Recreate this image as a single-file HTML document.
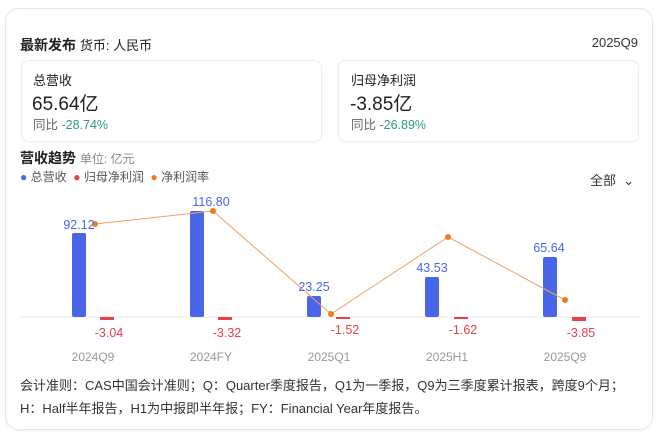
<!DOCTYPE html>
<html><head><meta charset="utf-8"><style>
body{margin:0;width:660px;height:439px;background:#fff;font-family:"Liberation Sans","Noto Sans CJK SC",sans-serif;color:#222;position:relative;overflow:hidden}
.a{position:absolute;white-space:nowrap}
.card{position:absolute;left:5px;top:8px;width:646px;height:420px;border:1px solid #e6e6e6;border-radius:14px;box-shadow:0 1px 4px rgba(0,0,0,.06)}
.box{position:absolute;top:60px;height:80px;border:1px solid #eee;border-radius:8px;box-shadow:0 1px 3px rgba(0,0,0,.05)}
</style></head><body>
<div class="card"></div>
<div class="a" style="left:20px;top:35px;font-size:14px;font-weight:bold">最新发布 <span style="font-weight:normal;font-size:13px">货币: 人民币</span></div>
<div class="a" style="right:22px;top:35px;font-size:13px;color:#333">2025Q9</div>
<div class="box" style="left:21px;width:299px"></div>
<div class="box" style="left:338px;width:299px"></div>
<div class="a" style="left:33px;top:70px;font-size:13px">总营收</div>
<div class="a" style="left:32px;top:89px;font-size:19px">65.64亿</div>
<div class="a" style="left:33px;top:114px;font-size:12.5px;color:#666">同比 <span style="color:#2a9d7a">-28.74%</span></div>
<div class="a" style="left:351px;top:70px;font-size:13px">归母净利润</div>
<div class="a" style="left:350px;top:89px;font-size:19px">-3.85亿</div>
<div class="a" style="left:351px;top:114px;font-size:12.5px;color:#666">同比 <span style="color:#2a9d7a">-26.89%</span></div>
<div class="a" style="left:20px;top:148px;font-size:14px;font-weight:bold">营收趋势 <span style="font-weight:normal;font-size:12px;color:#888">单位: 亿元</span></div>
<div class="a" style="left:20px;top:168px;font-size:12px;color:#555"><span style="color:#4a66e8">●</span> 总营收 &nbsp;<span style="color:#e8404a">●</span> 归母净利润 &nbsp;<span style="color:#f07a20">●</span> 净利润率</div>
<div class="a" style="left:590px;top:170px;font-size:13px;color:#333">全部 &nbsp;⌄</div>
<svg class="a" style="left:0;top:0" width="660" height="439">
<line x1="20" y1="317" x2="640" y2="317" stroke="#e8e8e8"/>
<g fill="#4a66e8">
<rect x="72" y="233" width="14" height="84" rx="2"/>
<rect x="190" y="211" width="14" height="106" rx="2"/>
<rect x="307" y="296" width="14" height="21" rx="2"/>
<rect x="425" y="277" width="14" height="40" rx="2"/>
<rect x="543" y="257" width="14" height="60" rx="2"/>
</g>
<g fill="#e8404a">
<rect x="100" y="317" width="14" height="3"/><rect x="218" y="317" width="14" height="3"/><rect x="336" y="317" width="14" height="2"/><rect x="454" y="317" width="14" height="2"/><rect x="572" y="317" width="14" height="4"/>
</g>
<polyline points="95,224 213,211 331,314 448,237 565,300" fill="none" stroke="#f5a060" stroke-width="1"/>
<g fill="#f07a20"><circle cx="95" cy="224" r="3"/><circle cx="213" cy="211" r="3"/><circle cx="331" cy="314" r="3"/><circle cx="448" cy="237" r="3"/><circle cx="565" cy="300" r="3"/></g>
<g font-size="12.5" fill="#4a66e8" text-anchor="middle" font-family="Liberation Sans,sans-serif">
<text x="79" y="229">92.12</text><text x="211" y="206">116.80</text><text x="314" y="291">23.25</text><text x="432" y="272">43.53</text><text x="549" y="252">65.64</text>
</g>
<g font-size="12.5" fill="#e8404a" text-anchor="middle" font-family="Liberation Sans,sans-serif">
<text x="109" y="337">-3.04</text><text x="227" y="337">-3.32</text><text x="345" y="334">-1.52</text><text x="463" y="334">-1.62</text><text x="581" y="337">-3.85</text>
</g>
<g font-size="12" fill="#999" text-anchor="middle" font-family="Liberation Sans,sans-serif">
<text x="93" y="361">2024Q9</text><text x="211" y="361">2024FY</text><text x="329" y="361">2025Q1</text><text x="447" y="361">2025H1</text><text x="565" y="361">2025Q9</text>
</g>
</svg>
<div class="a" style="left:20px;top:375px;font-size:13px;color:#333">会计准则：CAS中国会计准则；Q：Quarter季度报告，Q1为一季报，Q9为三季度累计报表，跨度9个月；</div>
<div class="a" style="left:20px;top:398px;font-size:13px;color:#333">H：Half半年报告，H1为中报即半年报；FY：Financial Year年度报告。</div>
</body></html>
